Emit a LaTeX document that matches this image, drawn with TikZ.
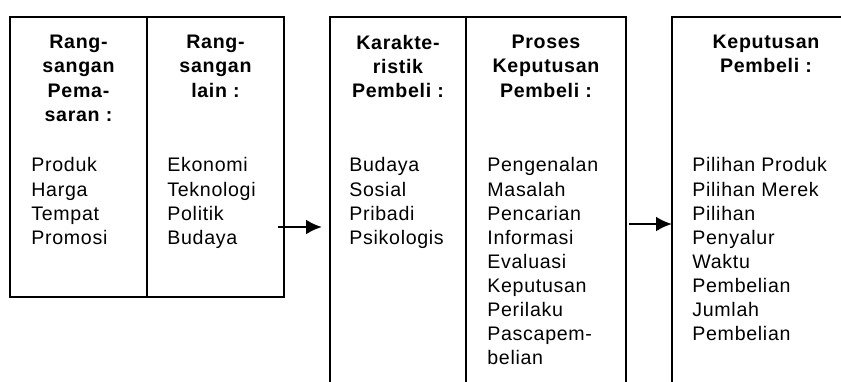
\documentclass[tikz,border=0pt]{standalone}
\usepackage{fontspec}
\setmainfont[LetterSpace=3.5]{Liberation Sans}
\usepackage{tikz}
\usetikzlibrary{arrows.meta,positioning,fit}

\begin{document}
\begin{tikzpicture}[x=0.5pt,y=-0.5pt,
    colbox/.style={draw,line width=1pt,inner sep=0pt},
    head/.style={anchor=north,inner sep=0pt,align=center,font=\fontsize{9.8}{12.05}\selectfont\bfseries},
    body/.style={anchor=north west,inner sep=0pt,align=left,font=\fontsize{9.8}{12.05}\selectfont},
    flow/.style={line width=1.3pt,-{Latex[length=8pt,width=7.5pt]}}]
    \useasboundingbox (0,0) rectangle (841,381);
    \clip (0,0) rectangle (841,381);
    \node[colbox,fit={(10,17) (147,297)}] (c1) {};
    \node[colbox,fit={(147,17) (284,297)}] (c2) {};
    \node[colbox,fit={(330,17) (466,400)}] (c3) {};
    \node[colbox,fit={(466,17) (626,400)}] (c4) {};
    \node[colbox,fit={(672,17) (860,400)}] (c5) {};
    \node[head,below=9.5pt of c1.north] (h1) {Rang-\\sangan\\Pema-\\saran :};
    \node[head,below=9.5pt of c2.north] (h2) {Rang-\\sangan\\lain :};
    \node[head,below=9.5pt of c3.north] (h3) {Karakte-\\ristik\\Pembeli :};
    \node[head,below=9.5pt of c4.north] (h4) {Proses\\Keputusan\\Pembeli :};
    \node[head,below=9.5pt of c5.north] (h5) {Keputusan\\Pembeli :};
    \node[body,below right=70.65pt and 11pt of c1.north west] (b1) {Produk\\Harga\\Tempat\\Promosi};
    \node[body,below right=70.65pt and 10.5pt of c2.north west] (b2) {Ekonomi\\Teknologi\\Politik\\Budaya};
    \node[body,below right=70.65pt and 10pt of c3.north west] (b3) {Budaya\\Sosial\\Pribadi\\Psikologis};
    \node[body,below right=70.65pt and 11pt of c4.north west] (b4) {Pengenalan\\Masalah\\Pencarian\\Informasi\\Evaluasi\\Keputusan\\Perilaku\\Pascapem-\\belian};
    \node[body,below right=70.65pt and 10.5pt of c5.north west] (b5) {Pilihan Produk\\Pilihan Merek\\Pilihan\\Penyalur\\Waktu\\Pembelian\\Jumlah\\Pembelian};
    \draw[flow,shorten <=-3.5pt,shorten >=3.5pt] (c2.east |- 0,227) -- (c3.west |- 0,227);
    \draw[flow,shorten <=1pt,shorten >=-0.5pt] (c4.east |- 0,224) -- (c5.west |- 0,224);
\end{tikzpicture}
\end{document}
